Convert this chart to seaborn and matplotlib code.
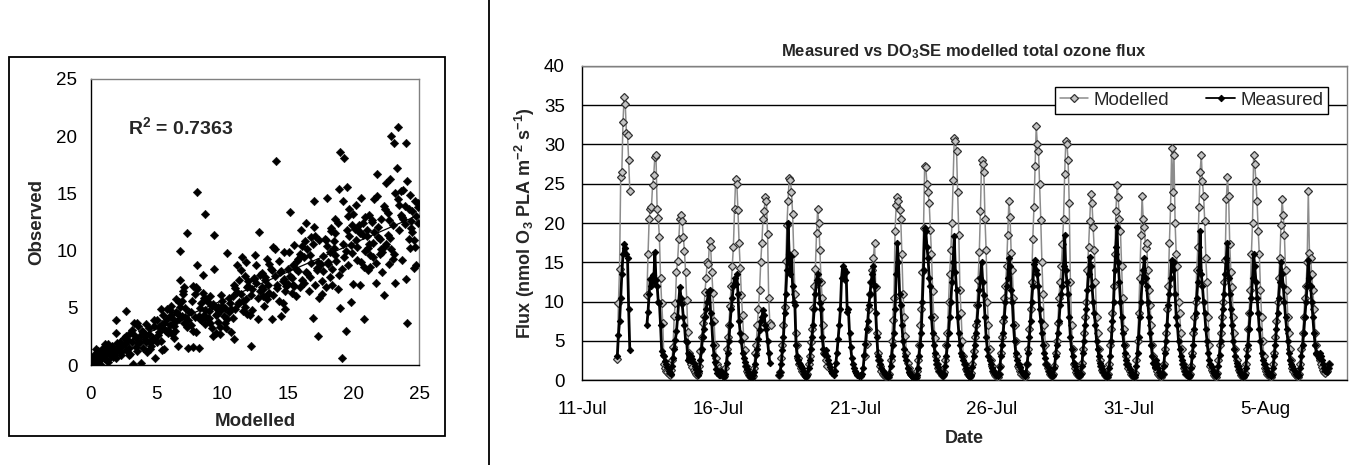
import numpy as np
import pandas as pd
import matplotlib
matplotlib.use("Agg")
import matplotlib.pyplot as plt
from matplotlib.lines import Line2D
from matplotlib.patches import Rectangle
import seaborn as sns

nan = np.nan

# ---------------- scatter panel data (Modelled vs Observed) ----------------
scatter_modelled = [
    0.1,0.2,0.3,0.3,0.4,0.5,0.5,0.6,0.7,0.8,0.8,0.9,1.0,1.0,1.1,1.2,1.3,1.3,1.4,1.5,1.5,1.6,1.7,1.8,1.9,2.0,2.0,2.1,2.2,2.3,2.4,0.2,0.6,0.9,1.2,1.6,1.9,2.3,0.4,1.1,1.7,2.5,
    2.6,2.7,2.8,2.9,3.0,3.1,3.2,3.3,3.4,3.5,3.6,3.7,3.8,3.9,4.0,4.1,4.2,4.3,4.4,4.5,4.6,4.7,4.8,4.9,2.7,3.0,3.3,3.5,3.8,4.0,4.2,4.5,4.8,3.1,3.6,4.1,4.4,2.9,3.4,4.7,1.9,2.7,
    5.0,5.1,5.2,5.3,5.4,5.5,5.6,5.7,5.8,5.9,6.0,6.1,6.2,6.3,6.4,6.5,6.6,6.7,6.8,6.9,7.0,7.1,7.2,7.3,7.4,5.2,5.5,5.8,6.0,6.3,6.5,6.8,7.0,7.2,5.4,5.9,6.2,6.6,6.9,7.3,5.6,6.1,6.4,7.1,6.7,5.0,5.3,6.8,7.4,7.5,
    7.6,7.7,7.8,7.9,8.0,8.1,8.2,8.3,8.4,8.5,8.6,8.7,8.8,8.9,9.0,9.1,9.2,9.3,9.4,9.5,9.6,9.7,9.8,9.9,10.0,7.6,7.9,8.1,8.4,8.7,9.0,9.3,9.6,9.9,7.8,8.2,8.6,9.1,9.5,9.8,8.1,8.7,9.4,7.8,8.0,8.3,9.2,9.7,8.5,8.9,
    10.1,10.2,10.3,10.4,10.5,10.6,10.7,10.8,10.9,11.0,11.1,11.2,11.3,11.4,11.5,11.6,11.7,11.8,11.9,12.0,12.1,12.2,12.3,12.4,10.2,10.5,10.8,11.1,11.4,11.7,12.0,12.3,10.4,10.9,11.3,11.8,12.2,10.7,11.6,12.4,10.0,11.0,11.9,
    12.5,12.6,12.7,12.8,12.9,13.0,13.1,13.2,13.3,13.4,13.5,13.6,13.7,13.8,13.9,14.0,14.1,14.2,14.3,14.4,14.5,14.6,14.7,14.8,14.9,15.0,12.7,13.0,13.3,13.6,13.9,14.2,14.5,14.8,12.9,13.4,13.8,14.3,14.7,13.1,14.0,14.6,15.0,12.6,13.5,
    15.1,15.2,15.3,15.4,15.5,15.6,15.7,15.8,15.9,16.0,16.1,16.2,16.3,16.4,16.5,16.6,16.7,16.8,16.9,17.0,17.1,17.2,17.3,17.4,17.5,15.3,15.6,15.9,16.2,16.5,16.8,17.1,17.4,15.2,15.8,16.4,17.0,17.3,15.5,16.1,16.7,17.2,16.0,15.4,16.9,
    17.6,17.7,17.8,17.9,18.0,18.1,18.2,18.3,18.4,18.5,18.6,18.7,18.8,18.9,19.0,19.1,19.2,19.3,19.4,19.5,19.6,19.7,19.8,19.9,20.0,17.7,18.0,18.3,18.6,18.9,19.2,19.5,19.8,17.9,18.4,18.8,19.3,19.7,18.1,18.6,19.0,19.4,19.9,17.6,18.2,19.6,18.5,19.1,
    20.1,20.2,20.3,20.4,20.5,20.6,20.7,20.8,20.9,21.0,21.1,21.2,21.3,21.4,21.5,21.6,21.7,21.8,21.9,22.0,22.1,22.2,22.3,22.4,20.2,20.5,20.8,21.1,21.4,21.7,22.0,22.3,20.3,20.7,21.2,21.6,22.1,20.0,20.6,21.0,21.5,21.9,22.4,20.4,21.3,21.8,20.9,22.2,
    22.5,22.6,22.7,22.8,22.9,23.0,23.1,23.2,23.3,23.4,23.5,23.6,23.7,23.8,23.9,24.0,24.1,24.2,24.3,24.4,24.5,24.6,24.7,24.8,24.9,22.6,22.9,23.2,23.5,23.8,24.1,24.4,24.7,24.9,22.7,23.1,23.6,24.0,24.5,24.8,23.4,22.8,23.9,24.3,24.6,23.0,24.2,24.9,22.5,23.7,
]
scatter_observed = [
    0.3,0.8,0.1,1.0,0.5,0.2,1.2,0.7,0.4,1.1,0.0,1.5,0.6,1.3,0.9,1.6,0.3,1.8,1.1,0.8,1.4,1.7,1.0,1.3,0.6,1.9,1.2,1.5,2.0,1.1,1.7,0.5,0.0,0.9,0.4,1.2,2.8,0.9,1.4,1.8,0.7,2.4,
    1.8,2.5,2.2,1.5,2.8,2.0,0.1,3.7,2.4,1.2,3.4,2.0,2.6,3.0,1.5,2.3,3.6,1.1,2.7,2.0,1.7,2.2,3.4,0.6,4.7,1.0,2.6,3.7,0.2,2.9,2.0,1.4,3.9,3.1,1.9,2.5,3.2,0.9,1.6,2.4,3.9,1.3,
    3.9,2.6,3.3,2.1,3.6,4.4,1.4,3.0,4.9,2.8,3.5,5.2,4.1,2.4,3.8,4.6,1.7,5.5,10.0,4.3,6.2,3.7,5.0,11.5,1.5,2.9,3.2,4.0,4.8,3.4,5.8,7.4,6.5,4.2,1.3,3.1,2.7,4.5,5.6,3.3,3.7,4.4,3.0,6.8,4.0,2.0,4.9,5.1,3.9,4.6,
    3.5,5.6,1.6,4.2,6.8,15.1,1.5,5.0,3.9,7.9,4.4,13.2,5.8,4.0,4.7,6.0,3.2,5.3,11.4,2.8,4.5,5.1,3.3,4.8,5.6,4.6,6.2,8.7,5.4,3.6,4.1,2.5,4.9,6.1,3.0,4.3,5.9,3.7,4.4,2.7,6.6,4.8,8.4,6.9,2.9,4.0,5.2,3.8,6.3,5.5,
    4.3,5.0,3.2,9.8,4.6,5.4,2.9,6.0,2.3,4.9,8.7,5.3,7.4,6.2,9.4,4.7,7.8,5.8,6.8,7.3,4.4,1.7,6.6,7.6,3.7,5.9,4.1,6.4,8.3,5.1,6.9,4.8,4.0,7.0,5.5,9.0,6.1,4.9,5.6,7.5,5.2,6.7,4.5,
    9.6,7.2,4.0,11.6,6.5,8.0,6.0,5.2,7.7,9.3,7.0,6.3,8.4,4.0,10.3,7.8,17.8,6.7,5.6,8.1,4.3,7.3,9.9,4.9,6.9,8.4,5.9,6.8,7.4,8.8,6.1,7.0,8.2,6.5,7.9,5.8,8.3,9.1,7.5,6.6,10.1,5.4,7.1,8.7,6.2,
    9.9,13.4,7.6,8.7,10.5,6.0,9.1,8.2,6.8,11.8,7.4,9.4,10.8,12.4,8.0,6.5,9.6,11.2,4.1,14.3,7.0,8.5,2.5,10.9,8.8,6.3,8.4,9.7,7.2,10.1,8.9,11.3,5.9,7.8,9.3,8.1,12.1,9.0,6.9,10.4,7.7,8.3,9.5,7.0,10.6,
    7.3,9.5,11.0,6.8,14.6,9.0,7.7,11.7,8.4,10.2,12.8,9.1,6.6,15.4,18.6,0.6,10.6,18.1,3.0,15.6,8.7,11.3,5.5,9.8,7.1,8.2,10.4,12.0,9.6,7.9,14.3,11.8,10.5,10.9,7.0,12.4,9.4,13.6,8.8,11.5,5.0,10.0,12.2,6.2,9.9,13.0,10.8,8.4,
    11.9,14.0,10.3,12.2,7.0,14.6,11.4,4.0,10.0,11.8,8.3,13.1,9.6,12.5,10.7,14.5,8.9,16.7,11.2,9.7,12.8,8.1,6.1,13.6,10.9,11.5,8.6,10.2,12.7,7.2,11.0,13.9,9.2,12.4,10.6,11.6,10.1,13.2,9.0,11.3,9.4,12.1,10.4,11.7,8.6,14.8,12.9,9.9,
    15.9,11.4,8.8,16.3,20.0,12.2,19.4,7.2,17.2,20.8,14.0,15.2,9.2,12.8,13.9,19.4,3.7,11.0,10.2,12.6,13.5,8.5,14.3,13.0,12.4,13.3,10.1,15.0,11.8,15.3,16.1,12.0,10.3,13.8,12.7,9.7,13.1,7.5,11.6,8.7,14.5,11.1,12.3,14.9,10.9,9.3,13.6,14.2,10.6,12.9,
]
scatter_ticks = [0, 5, 10, 15, 20, 25]
r2_text = r"R$^\mathbf{2}$ = 0.7363"

# ---------------- time series data (hourly, from 12-Jul 00:00) ----------------
series_start = "2005-07-12 00:00"
modelled = [
    nan,nan,nan,nan,nan,nan,nan, 2.7,9.8,14.2,25.9,26.5,32.9,36.0,35.1,31.5,31.2,28.0,24.1, nan,nan,nan,nan,nan,   # 12-Jul
    nan,nan,nan,nan,nan,nan,nan,nan,nan, 10.8,16.0,20.5,21.8,22.0,24.8,26.1,28.4,28.6,21.8,20.6,18.2,13.0,9.8,7.2,  # 13-Jul
    2.0,1.5,1.2,1.0,0.8,0.7, 1.3,2.6,4.2,8.2, 9.8,13.8,15.2,17.9, 20.5,21.0,20.2,18.2, 16.4,13.7,10.2,6.1, 3.5,2.4,   # 14-Jul
    2.0,1.6,1.3,1.0,0.8,0.6, 0.9,1.8,3.7,5.5, 7.3,8.2,11.2,13.0, 15.0,14.8,17.7,17.0, 13.8,11.1,7.5,4.4, 2.8,2.0,    # 15-Jul
    1.5,1.2,1.0,0.8,0.6,0.5, 1.5,4.0,5.5,7.0, 9.4,12.0,14.5,17.0, 21.8,25.6,25.0,21.6, 17.4,14.3,10.8,8.3, 5.5,3.8,  # 16-Jul
    1.8,1.2,0.9,0.7,0.5,0.4, 0.5,1.5,3.5,4.5, 7.0,9.0,11.5,15.0, 17.5,20.5,21.5,23.3, 22.8,18.6,10.4,7.3, 7.0,nan,   # 17-Jul
    nan,nan,nan,nan,nan,0.7, 1.0,2.8,4.5,7.0, 9.3,15.2,19.8,22.8, 25.7,25.5,24.0,21.2, 16.2,11.0,6.0,4.5, 2.8,2.0,   # 18-Jul
    1.5,1.2,1.0,0.8,0.6,0.5, 0.8,2.0,3.0,4.8, 6.5,9.2,12.0,14.2, 18.7,21.8,20.0,16.5, 12.5,10.5,7.0,3.5, 2.5,1.8,    # 19-Jul
    nan,nan,nan,nan,nan,nan, nan,nan,nan,nan, nan,nan,nan,nan, nan,nan,nan,nan, nan,nan,nan,nan, nan,nan,        # 20-Jul
    nan,nan,nan,nan,nan,nan,nan,nan,nan, 3.0,4.6,6.5,9.0,11.0,12.5,14.0,15.6,17.5,11.8,6.0,3.5,2.5,1.8,1.2,         # 21-Jul
    0.8,0.6,0.5,0.5,0.4,0.4, 0.8,2.5,5.0,7.6, 10.5,19.0,22.3,23.3, 22.8,21.6,20.5,16.0, 11.0,8.0,5.6,3.5, 2.2,1.5,  # 22-Jul
    1.0,0.8,0.6,0.5,0.4,0.4, 1.2,2.5,4.5,7.0, 9.0,13.8,19.3,27.3, 27.1,25.0,24.0,22.5, 19.1,16.0,11.3,8.0, 5.3,3.0,  # 23-Jul
    2.0,1.5,1.2,0.9,0.7,0.6, 1.0,2.5,4.5,6.0, 10.0,13.5,16.5,20.0, 25.5,30.8,30.5,29.2, 24.0,18.5,11.5,8.5, 5.0,3.0, # 24-Jul
    2.0,1.4,1.1,0.8,0.6,0.5, 0.9,2.0,3.7,5.5, 7.0,9.5,12.8,16.3, 21.5,28.0,27.5,26.5, 20.5,16.5,10.0,7.0, 4.0,2.5,   # 25-Jul
    1.8,1.2,0.9,0.7,0.5,0.4, 0.8,1.8,3.5,5.5, 7.5,10.5,12.0,14.5, 18.5,22.8,20.8,16.2, 14.0,10.5,7.0,5.0, 3.0,1.8,  # 26-Jul
    1.5,1.1,0.8,0.6,0.5,0.4, 0.9,2.0,4.0,6.5, 9.0,12.5,18.0,22.0, 27.3,32.3,30.0,29.2, 25.0,20.4,15.0,11.0, 7.0,4.5, # 27-Jul
    2.0,1.5,1.1,0.8,0.6,0.5, 0.8,1.8,3.5,5.0, 7.3,10.5,12.5,14.5, 17.3,20.5,26.3,30.4, 30.0,28.0,22.5,12.5, 7.0,4.0, # 28-Jul
    2.0,1.5,1.0,0.8,0.6,0.5, 0.9,2.2,4.0,6.0, 8.0,10.0,14.0,17.0, 20.3,23.7,22.5,19.5, 16.5,12.5,8.0,6.0, 4.0,2.5,   # 29-Jul
    1.8,1.3,1.0,0.7,0.5,0.4, 0.8,2.0,4.5,6.5, 8.5,12.0,16.0,21.5, 24.8,23.3,20.5,19.0, 14.5,10.5,6.5,4.5, 3.0,2.0,  # 30-Jul
    1.5,1.1,0.8,0.6,0.5,0.4, 0.9,2.5,5.0,8.5, 13.0,18.5,23.5,20.5, 19.5,16.8,17.5,14.0, 11.5,9.5,7.0,4.5, 3.0,2.0,  # 31-Jul
    1.5,1.1,0.8,0.6,0.5,0.4, 0.8,2.0,4.0,6.0, 9.0,12.0,17.5,22.0, 29.5,24.0,28.7,20.0, 16.0,14.5,10.0,8.5, 6.0,4.0,  # 1-Aug
    2.0,1.5,1.1,0.8,0.6,0.5, 0.8,1.8,3.5,6.0, 8.0,10.0,14.0,17.0, 22.0,26.5,28.7,25.3, 23.5,20.3,15.5,12.5, 8.0,4.5, # 2-Aug
    1.8,1.3,1.0,0.7,0.5,0.4, 0.9,2.5,4.5,6.0, 8.0,10.0,12.5,15.3, 23.0,25.8,23.4,17.3, 13.8,11.8,8.0,6.0, 4.0,2.5,  # 3-Aug
    1.8,1.3,1.0,0.7,0.5,0.4, 0.9,2.0,4.0,6.5, 8.5,11.5,16.0,20.0, 28.6,27.5,25.3,22.8, 19.0,16.0,11.5,8.0, 5.0,3.0,  # 4-Aug
    1.5,1.1,0.8,0.6,0.5,0.4, 0.8,2.0,3.5,5.5, 7.5,10.0,13.0,15.5, 19.7,23.0,21.0,18.5, 14.0,11.5,8.0,6.0, 4.0,2.5,  # 5-Aug
    1.5,1.1,0.8,0.6,0.5,0.4, 0.8,2.0,4.0,6.0, 8.0,10.5,12.0,15.0, 24.1,16.2,15.5,13.5, 11.5,9.0,6.0,4.5, 3.3,3.0,   # 6-Aug
    2.5,2.0,1.6,1.3,1.0,0.9,1.1,1.5,2.0,                                                                              # 7-Aug
]
measured = [
    nan,nan,nan,nan,nan,nan,nan, 3.0,5.7,7.5,10.4,13.5,16.0,17.3,16.8,16.1,15.5,9.0,3.8, nan,nan,nan,nan,nan,       # 12-Jul
    nan,nan,nan,nan,nan,nan,nan,nan,nan, 7.0,8.7,11.0,12.9,12.0,13.4,12.5,16.3,12.7,12.0,10.0,9.8,7.0,3.7,3.2,     # 13-Jul
    3.0,2.4,2.0,1.6,1.2,0.9, 0.8,1.8,2.8,4.0, 5.1,6.2,8.0,10.1, 11.8,10.5,9.7,8.0, 7.0,5.0,4.8,2.6, 3.3,2.6,       # 14-Jul
    3.0,2.7,2.2,1.8,1.4,1.0, 0.6,1.2,2.5,4.0, 5.5,6.5,8.0,9.0, 10.0,11.2,11.5,8.5, 7.2,4.5,3.2,2.3, 1.4,0.9,       # 15-Jul
    0.7,0.6,1.2,0.9,0.5,0.4, 0.8,2.2,3.5,5.0, 7.0,9.0,10.5,12.0, 13.0,12.2,13.5,11.0, 7.5,6.0,5.0,3.5, 2.8,2.3,    # 16-Jul
    1.8,1.4,1.0,0.6,0.4,0.3, 0.6,1.0,2.0,3.2, 4.0,5.2,6.4,7.5, 8.0,8.9,8.3,7.0, 6.5,5.0,3.5,2.2, nan,nan,          # 17-Jul
    nan,nan,nan,nan,nan,0.6, 1.0,2.0,3.8,5.5, 8.5,11.0,14.0,20.0, 16.0,13.5,15.8,12.0, 10.0,9.5,4.5,3.0, 2.5,2.2,  # 18-Jul
    1.8,1.5,1.2,0.8,0.5,0.4, 0.7,1.5,2.5,4.0, 5.5,7.0,9.0,11.0, 12.8,13.5,12.6,9.8, 9.0,5.5,4.0,3.3, 3.8,3.0,      # 19-Jul
    2.5,2.0,1.6,1.2,0.9,0.7, 1.2,2.2,3.5,5.2, 7.0,9.0,13.0,14.5, 14.2,12.8,13.8,8.7, 9.0,6.0,4.2,2.8, 2.0,1.5,     # 20-Jul
    1.2,0.9,0.7,0.5,0.6,0.5, 0.8,1.5,3.2,4.6, 6.5,7.5,9.5,11.0, 12.5,13.5,14.5,12.0, 8.5,5.5,3.0,2.5, 2.0,1.5,     # 21-Jul
    1.2,1.0,0.8,0.6,0.5,0.4, 0.7,1.8,3.0,4.5, 6.0,9.0,13.5,17.4, 15.0,11.0,9.5,7.0, 5.0,4.0,3.0,2.5, 1.5,1.0,      # 22-Jul
    0.8,0.7,0.5,0.4,0.3,0.3, 0.6,1.5,3.0,4.5, 6.0,10.0,14.0,19.3, 19.0,17.0,15.5,13.0, 12.0,8.0,6.0,4.5, 3.5,2.5,  # 23-Jul
    2.0,1.6,1.2,0.9,0.6,0.5, 0.8,1.8,3.0,4.5, 6.0,8.0,10.0,12.5, 15.0,18.3,13.8,11.5, 8.0,6.0,4.5,3.5, 3.0,2.5,    # 24-Jul
    2.0,1.5,1.1,0.8,0.5,0.4, 0.7,1.6,3.0,4.5, 6.0,7.5,9.5,11.5, 13.0,15.0,12.5,10.8, 8.0,5.5,4.0,3.0, 2.5,2.0,     # 25-Jul
    1.5,1.2,1.0,0.8,0.6,0.5, 0.8,1.6,3.0,4.5, 6.0,8.0,10.0,12.0, 13.0,15.6,14.5,11.5, 10.0,7.0,5.0,3.5, 2.5,2.0,   # 26-Jul
    2.0,1.6,1.2,0.9,0.7,0.5, 0.8,2.0,3.5,5.5, 7.5,10.0,12.0,14.8, 15.3,14.0,13.5,12.0, 9.0,7.5,6.0,4.5, 3.5,2.8,   # 27-Jul
    2.0,1.6,1.2,0.9,0.7,0.5, 0.7,1.5,3.0,4.5, 6.0,7.5,9.5,11.0, 12.0,14.5,18.5,14.0, 12.5,11.0,8.0,5.5, 4.0,3.0,   # 28-Jul
    2.2,1.8,1.3,0.9,0.6,0.5, 0.8,1.8,3.5,5.0, 7.0,9.0,11.5,13.5, 15.7,14.5,12.0,10.0, 8.5,7.0,5.0,4.0, 3.0,2.2,    # 29-Jul
    1.8,1.4,1.0,0.7,0.5,0.4, 0.6,1.5,3.0,5.0, 7.5,10.0,14.0,17.0, 19.5,15.0,12.5,10.0, 8.0,6.0,4.5,3.5, 2.5,2.0,   # 30-Jul
    1.8,1.4,1.0,0.7,0.5,0.4, 0.6,1.8,3.5,5.5, 8.0,10.0,12.5,14.0, 15.5,13.0,12.0,10.0, 8.0,6.0,4.5,3.0, 2.2,1.7,   # 31-Jul
    2.5,2.0,1.5,1.0,0.7,0.5, 0.8,1.8,3.5,5.0, 7.0,9.5,11.0,13.0, 15.3,14.0,15.0,11.0, 8.0,7.0,5.0,4.0, 3.0,2.5,    # 1-Aug
    2.0,1.6,1.2,0.8,0.6,0.4, 0.7,1.5,3.0,4.5, 6.5,8.5,10.5,12.5, 14.0,19.0,13.5,12.0, 10.0,8.5,6.5,5.0, 3.5,2.5,   # 2-Aug
    2.0,1.6,1.2,0.9,0.6,0.5, 0.8,1.8,3.2,5.0, 7.0,9.0,11.0,13.5, 15.5,17.4,13.0,11.0, 9.0,7.0,5.0,4.0, 3.0,2.2,    # 3-Aug
    1.8,1.4,1.0,0.8,0.6,0.4, 0.7,1.5,3.0,4.5, 6.5,8.5,10.5,13.0, 16.0,14.5,12.5,10.5, 8.5,6.5,5.0,3.5, 2.5,2.0,    # 4-Aug
    2.0,1.5,1.1,0.8,0.6,0.5, 0.7,1.5,3.0,4.5, 6.5,8.5,10.5,12.5, 15.0,13.5,12.0,10.0, 8.0,6.5,5.0,3.5, 2.5,2.0,    # 5-Aug
    1.8,1.4,1.1,0.8,0.6,0.5, 0.7,1.5,3.0,4.5, 6.0,8.0,10.0,12.0, 15.3,13.0,12.0,10.0, 8.0,6.0,4.5,3.5, 3.3,2.8,    # 6-Aug
    3.4,3.0,2.5,2.0,1.5,1.2,1.0,1.5,2.0,                                                                           # 7-Aug
]
date_ticks = ["2005-07-11", "2005-07-16", "2005-07-21", "2005-07-26", "2005-07-31", "2005-08-05"]
date_labels = ["11-Jul", "16-Jul", "21-Jul", "26-Jul", "31-Jul", "5-Aug"]
date_range = ["2005-07-11", "2005-08-08"]
flux_ticks = [0, 5, 10, 15, 20, 25, 30, 35, 40]
series_names = ["Modelled", "Measured"]

# ---------------- styling ----------------
sns.set_theme(style="white")
plt.rcParams["font.family"] = ["Liberation Sans", "DejaVu Sans"]
plt.rcParams["mathtext.fontset"] = "custom"
plt.rcParams["mathtext.rm"] = "Liberation Sans"
plt.rcParams["mathtext.it"] = "Liberation Sans:italic"
plt.rcParams["mathtext.bf"] = "Liberation Sans:bold"

W, H = 1365, 465
def fx(px):
    return px / W
def fy(py):
    return 1 - py / H

fig = plt.figure(figsize=(W / 100, H / 100), dpi=100)
fig.patch.set_facecolor("white")

# outer chart boxes
fig.add_artist(Rectangle((fx(9), fy(436)), (445 - 9) / W, (436 - 57) / H,
                         transform=fig.transFigure, fill=False, ec="black", lw=1.3))
fig.add_artist(Rectangle((fx(489), -0.05), 0.7, 1.2,
                         transform=fig.transFigure, fill=False, ec="black", lw=1.3))

TICK_FS = 13.5

# ---------------- left: scatter ----------------
ax1 = fig.add_axes([fx(91), fy(365), (419 - 91) / W, (365 - 79) / H])
sc = pd.DataFrame({"Modelled": scatter_modelled, "Observed": scatter_observed})
sns.scatterplot(data=sc, x="Modelled", y="Observed", marker="D", s=19,
                color="black", edgecolor="black", linewidth=0.3, ax=ax1,
                legend=False, zorder=3)
sns.regplot(data=sc, x="Modelled", y="Observed", scatter=False, ci=None,
            color="black", line_kws={"lw": 0.9, "zorder": 4}, ax=ax1)
ax1.set_xlim(0, 25)
ax1.set_ylim(0, 25)
ax1.set_xticks(scatter_ticks)
ax1.set_yticks(scatter_ticks)
ax1.set_xlabel("")
ax1.set_ylabel("")
for side in ["left", "bottom"]:
    ax1.spines[side].set_color("black")
    ax1.spines[side].set_linewidth(1.0)
for side in ["top", "right"]:
    ax1.spines[side].set_color("#808080")
    ax1.spines[side].set_linewidth(1.0)
ax1.tick_params(axis="both", direction="out", length=4.3, width=1, color="black",
                labelsize=TICK_FS, labelcolor="black")
ax1.tick_params(axis="x", pad=11)
ax1.tick_params(axis="y", pad=5.5)
ax1.grid(False)
fig.text(fx(37), fy(222), "Observed", rotation=90, ha="center", va="center",
         fontsize=13.5, fontweight="bold")
fig.text(fx(255), fy(421), "Modelled", ha="center", va="center",
         fontsize=13.5, fontweight="bold")
fig.text(fx(128), fy(127), r2_text, ha="left", va="center", fontsize=14, fontweight="bold")

# ---------------- right: time series ----------------
ax2 = fig.add_axes([fx(582), fy(380), (1347 - 582) / W, (380 - 66) / H])
times = pd.date_range(series_start, periods=len(modelled), freq="h")
styles = {
    "Modelled": dict(color="#8c8c8c", lw=1.1, marker="D", markersize=3.6,
                     markerfacecolor="#c4c4c4", markeredgecolor="#333333",
                     markeredgewidth=0.9),
    "Measured": dict(color="black", lw=2.0, marker="D", markersize=3.3,
                     markerfacecolor="black", markeredgecolor="black",
                     markeredgewidth=0.7),
}
for name, values in zip(series_names, [modelled, measured]):
    d = pd.DataFrame({"time": times, "flux": values})
    d["seg"] = d["flux"].isna().cumsum()
    d = d.dropna()
    sns.lineplot(data=d, x="time", y="flux", units="seg", estimator=None,
                 sort=False, legend=False, ax=ax2, zorder=3, **styles[name])

ax2.set_xlim(pd.Timestamp(date_range[0]), pd.Timestamp(date_range[1]))
ax2.set_ylim(0, 40)
ax2.set_yticks(flux_ticks)
ax2.set_xticks(pd.to_datetime(date_ticks))
ax2.set_xticklabels(date_labels)
ax2.set_xlabel("")
ax2.set_ylabel("")
ax2.set_axisbelow(True)
ax2.yaxis.grid(True, color="black", lw=1.0)
ax2.xaxis.grid(False)
for side in ["left", "bottom"]:
    ax2.spines[side].set_color("black")
    ax2.spines[side].set_linewidth(1.0)
for side in ["top", "right"]:
    ax2.spines[side].set_color("#808080")
    ax2.spines[side].set_linewidth(1.0)
ax2.tick_params(axis="both", direction="out", length=4.3, width=1, color="black",
                labelsize=TICK_FS, labelcolor="black")
ax2.tick_params(axis="x", pad=11)
ax2.tick_params(axis="y", pad=8)

legend_styles = {
    "Modelled": dict(styles["Modelled"], lw=1.1),
    "Measured": dict(styles["Measured"], lw=1.3),
}
handles = [Line2D([], [], **legend_styles[n]) for n in series_names]
leg = ax2.legend(handles, series_names, loc="upper right",
                 bbox_to_anchor=(0.975, 0.933), ncol=2, frameon=True,
                 fancybox=False, edgecolor="black", framealpha=1,
                 fontsize=13.5, handlelength=1.5, handletextpad=0.3,
                 columnspacing=2.0, borderpad=0.25, borderaxespad=0)
leg.get_frame().set_linewidth(1.0)
leg.set_zorder(5)

fig.text(fx(964), fy(52), r"Measured vs DO$_\mathbf{3}$SE modelled total ozone flux",
         ha="center", va="center", fontsize=12, fontweight="bold")
fig.text(fx(525), fy(223),
         r"Flux (nmol O$_\mathbf{3}$ PLA m$^\mathbf{-2}$ s$^\mathbf{-1}$)",
         rotation=90, ha="center", va="center", fontsize=13, fontweight="bold")
fig.text(fx(964), fy(438), "Date", ha="center", va="center",
         fontsize=13, fontweight="bold")

fig.savefig("out.png", dpi=100, facecolor="white")
